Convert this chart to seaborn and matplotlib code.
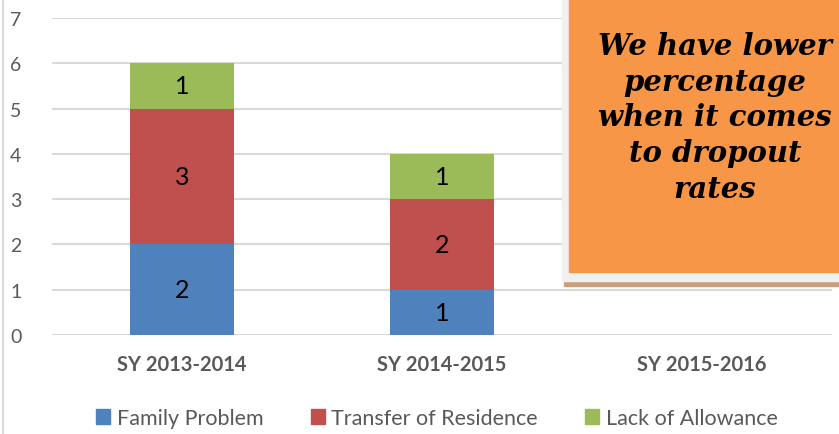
import numpy as np
import pandas as pd
import matplotlib
matplotlib.use("Agg")
import matplotlib.pyplot as plt
import seaborn as sns
from matplotlib.patches import Rectangle
from matplotlib.lines import Line2D

# data
years = ["SY 2013-2014", "SY 2014-2015", "SY 2015-2016"]
family_problem = [2, 1, 0]
transfer_residence = [3, 2, 0]
lack_allowance = [1, 1, 0]
series_names = ["Family Problem", "Transfer of Residence", "Lack of Allowance"]
colors = ["#4F81BD", "#C0504D", "#9BBB59"]
note = "We have lower\npercentage\nwhen it comes\nto dropout\nrates"

sns.set_theme(style="white")
plt.rcParams["font.family"] = ["Lato", "DejaVu Sans"]

df = pd.DataFrame({"year": years,
                   "Family Problem": family_problem,
                   "Transfer of Residence": transfer_residence,
                   "Lack of Allowance": lack_allowance})
df["lvl1"] = df["Family Problem"]
df["lvl2"] = df["lvl1"] + df["Transfer of Residence"]
df["lvl3"] = df["lvl2"] + df["Lack of Allowance"]

fig = plt.figure(figsize=(8.39, 4.35), dpi=100)
ax = fig.add_axes([52 / 839, 99 / 435, 780 / 839, 317 / 435])

# stack by drawing cumulative totals from top to bottom
for col, c in zip(["lvl3", "lvl2", "lvl1"], colors[::-1]):
    sns.barplot(data=df, x="year", y=col, color=c, width=0.4,
                saturation=1, linewidth=0, ax=ax, zorder=2)

# segment labels
vals = [family_problem, transfer_residence, lack_allowance]
for i in range(len(years)):
    base = 0
    for s in range(3):
        v = vals[s][i]
        if v > 0:
            ax.text(i, base + v / 2, str(v), ha="center", va="center",
                    fontsize=18, color="black", zorder=3)
        base += v

ax.set_ylim(0, 7)
ax.set_xlim(-0.5, 2.5)
ax.set_yticks(range(8))
ax.yaxis.grid(True, color="#D9D9D9", linewidth=1.5, zorder=0)
ax.set_axisbelow(True)
for sp in ax.spines.values():
    sp.set_visible(False)
ax.set_xlabel("")
ax.set_ylabel("")
ax.tick_params(axis="y", labelsize=14, labelcolor="#595959", pad=22, length=0)
ax.tick_params(axis="x", labelsize=14.5, labelcolor="#595959", pad=14, length=0)
for t in ax.get_xticklabels():
    t.set_fontweight("bold")

# legend
handles = [Rectangle((0, 0), 1, 1, color=c) for c in colors]
fig.legend(handles, series_names, loc="center", bbox_to_anchor=(437 / 839, 16 / 435),
           ncol=3, frameon=False, fontsize=15.5, handlelength=0.65, handleheight=0.65,
           handletextpad=0.3, columnspacing=2.2, labelcolor="#595959")

# left border of chart area
fig.add_artist(Line2D([3 / 839, 3 / 839], [0, 1], color="#D9D9D9", linewidth=1.5))

# callout box
fig.add_artist(Rectangle((564 / 839, 148 / 435), 280 / 839, 4 / 435,
                         color="#C9A07E", zorder=5))
fig.add_artist(Rectangle((562 / 839, 153 / 435), 280 / 839, 290 / 435,
                         color="#F0F0F0", zorder=6))
fig.add_artist(Rectangle((569 / 839, 162 / 435), 280 / 839, 273 / 435,
                         color="#F79646", zorder=7))
fig.text(715 / 839, 1 - 118 / 435, note, ha="center", va="center",
         fontsize=21, fontstyle="italic", fontweight="bold",
         family=["DejaVu Serif"], linespacing=1.3, color="black", zorder=8)

fig.savefig("out.png", dpi=100)
